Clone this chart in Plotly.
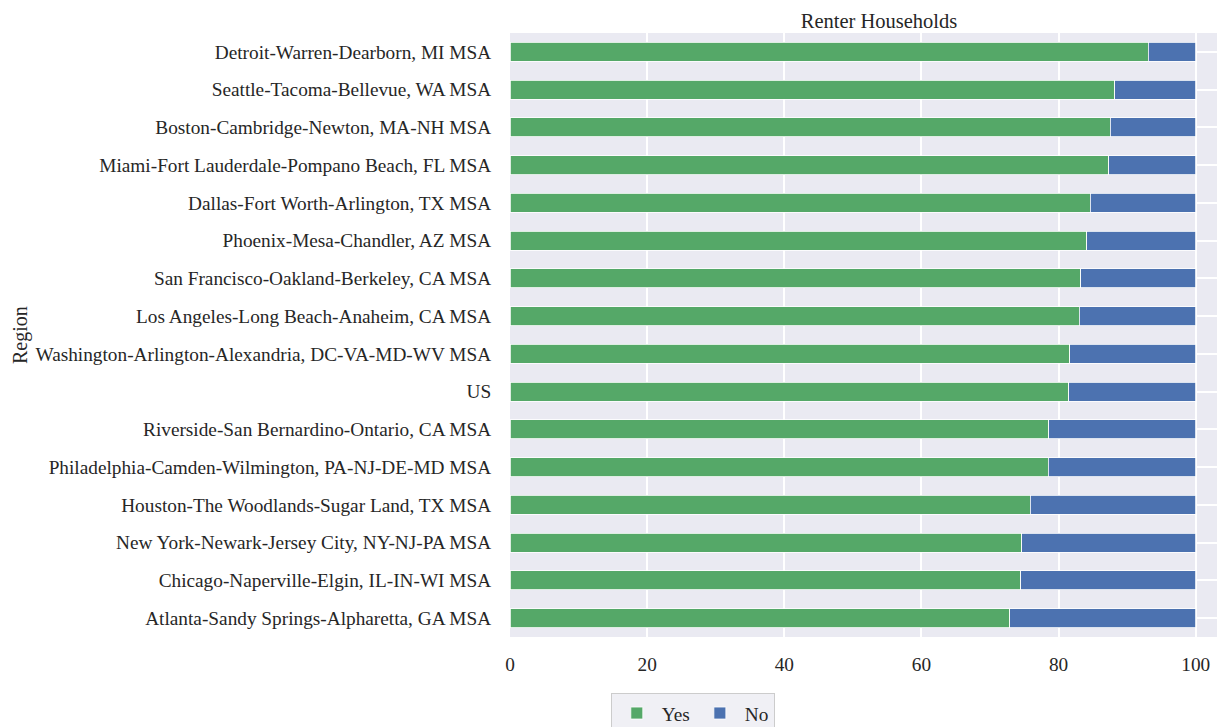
import plotly.graph_objects as go

regions = [
    "Detroit-Warren-Dearborn, MI MSA",
    "Seattle-Tacoma-Bellevue, WA MSA",
    "Boston-Cambridge-Newton, MA-NH MSA",
    "Miami-Fort Lauderdale-Pompano Beach, FL MSA",
    "Dallas-Fort Worth-Arlington, TX MSA",
    "Phoenix-Mesa-Chandler, AZ MSA",
    "San Francisco-Oakland-Berkeley, CA MSA",
    "Los Angeles-Long Beach-Anaheim, CA MSA",
    "Washington-Arlington-Alexandria, DC-VA-MD-WV MSA",
    "US",
    "Riverside-San Bernardino-Ontario, CA MSA",
    "Philadelphia-Camden-Wilmington, PA-NJ-DE-MD MSA",
    "Houston-The Woodlands-Sugar Land, TX MSA",
    "New York-Newark-Jersey City, NY-NJ-PA MSA",
    "Chicago-Naperville-Elgin, IL-IN-WI MSA",
    "Atlanta-Sandy Springs-Alpharetta, GA MSA",
]
yes_vals = [93.1, 88.2, 87.5, 87.3, 84.6, 84.1, 83.2, 83.0, 81.6, 81.5, 78.6, 78.5, 75.9, 74.6, 74.5, 72.9]
no_vals = [6.9, 11.8, 12.5, 12.7, 15.4, 15.9, 16.8, 17.0, 18.4, 18.5, 21.4, 21.5, 24.1, 25.4, 25.5, 27.1]
x_ticks = [0, 20, 40, 60, 80, 100]

GREEN = "#55a868"
BLUE = "#4c72b0"
BG = "#eaeaf2"
FONT = "Liberation Serif"
TXT = "#262626"
FS = 19.3

fig = go.Figure()
fig.add_trace(go.Bar(y=regions, x=yes_vals, name="Yes", orientation="h",
                     marker=dict(color=GREEN, line=dict(color="white", width=0.8)),
                     width=0.5))
fig.add_trace(go.Bar(y=regions, x=no_vals, name="No", orientation="h",
                     marker=dict(color=BLUE, line=dict(color="white", width=0.8)),
                     width=0.5))

fig.update_layout(
    barmode="stack",
    width=1225, height=727,
    margin=dict(l=502, r=3, t=25, b=98, autoexpand=False),
    paper_bgcolor="white",
    plot_bgcolor=BG,
    font=dict(family=FONT, size=FS, color=TXT),
    title=dict(text="Renter Households", x=871 / 1225, xanchor="center",
               y=1 - 13 / 727, yanchor="middle", font=dict(size=20.5, color=TXT, family=FONT)),
    showlegend=True,
    legend=dict(orientation="h", x=0.140, xanchor="left", y=-0.0927, yanchor="top",
                bgcolor="#f0f0f5", bordercolor="#cccccc", borderwidth=1,
                font=dict(size=FS, family=FONT, color=TXT),
                traceorder="normal", itemwidth=40),
    xaxis=dict(range=[0, 105], tickvals=x_ticks, ticktext=[str(t) for t in x_ticks],
               showgrid=True, gridcolor="white", gridwidth=1.5, zeroline=False,
               showline=False, ticks="outside", ticklen=10, tickcolor="rgba(0,0,0,0)",
               tickfont=dict(size=FS, family=FONT, color=TXT)),
    yaxis=dict(categoryorder="array", categoryarray=regions,
               range=[15.5, -0.5], showgrid=True, gridcolor="white", gridwidth=1.5,
               zeroline=False, showline=False, ticks="outside", ticklen=14,
               tickcolor="rgba(0,0,0,0)", tickfont=dict(size=FS, family=FONT, color=TXT)),
    bargap=0.5,
)
fig.add_annotation(text="Region", xref="paper", yref="paper",
                   x=(12 - 502) / 720, y=0.5, textangle=-90, showarrow=False,
                   font=dict(size=20, family=FONT, color=TXT), xanchor="center", yanchor="middle")

fig.write_html("out.html")
